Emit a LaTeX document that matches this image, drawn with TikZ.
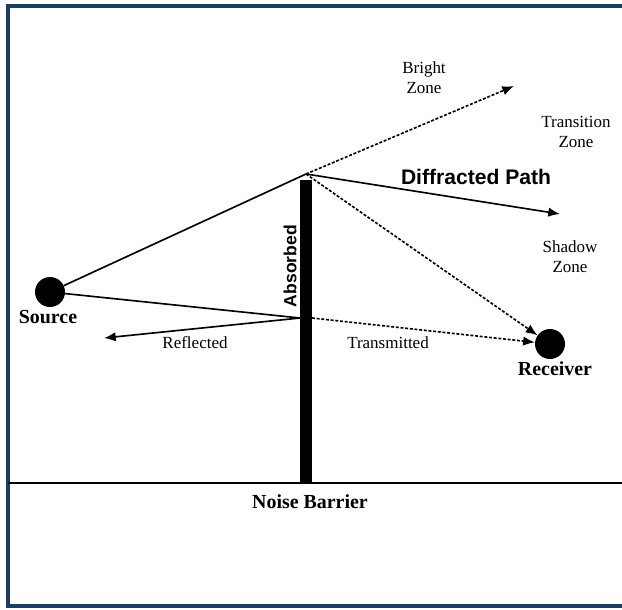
\documentclass[tikz,border=0pt]{standalone}
\usepackage{fontspec}
\setmainfont{Liberation Serif}
\setsansfont{Liberation Sans}
\usetikzlibrary{arrows.meta}
\definecolor{framecol}{RGB}{25,62,100}

\begin{document}
\begin{tikzpicture}[x=0.03cm,y=-0.03cm,
    ray/.style={line width=1.4pt},
    dray/.style={line width=1.4pt, dash pattern=on 2.5pt off 1.5pt},
    tip/.style={-{Latex[length=10pt,width=8pt]}},
    lbl/.style={font=\fontsize{14.5}{17}\selectfont, align=center},
    blbl/.style={font=\bfseries\fontsize{17}{20}\selectfont},
    dot/.style={circle, fill=black, inner sep=0pt, minimum size=0.9cm}]
\useasboundingbox (0,0) rectangle (622,609);

% frame and ground
\draw[framecol, line width=3pt] (622,6) -- (8,6) -- (8,606) -- (622,606);
\draw[line width=1.2pt] (8,483) -- (622,483);

% barrier
\node[fill=black, inner sep=0pt, minimum width=0.36cm, minimum height=9.09cm, anchor=north] (barrier) at (306,180) {};
\coordinate (top) at (306,174);
\coordinate (hit) at (300,318);
\coordinate (pass) at (312,318);

% source and receiver
\node[dot] (source) at (50,292) {};
\node[dot] (receiver) at (550,344) {};
\coordinate (bright) at (514,86);
\coordinate (diff) at (560,214);
\coordinate (refl) at (104,338);

% rays
\draw[ray] (source) -- (top);
\draw[dray,tip] (top) -- (bright);
\draw[ray,tip] (top) -- (diff);
\draw[dray,tip] (top) -- (receiver);
\draw[ray] (source) -- (hit);
\draw[ray,tip] (hit) -- (refl);
\draw[dray,tip] (pass) -- (receiver);

% labels
\node[blbl] (srclbl) at (48,317) {Source};
\node[blbl] (rcvlbl) at (555,369) {Receiver};
\node[blbl] (barlbl) at (310,502) {Noise Barrier};
\node[lbl] (refllbl) at (195,343) {Reflected};
\node[lbl] (translbl) at (388,343) {Transmitted};
\node[lbl] (brightlbl) at (424,78) {Bright\\Zone};
\node[lbl] (translbl) at (576,132) {Transition\\Zone};
\node[lbl] (shadowlbl) at (570,257) {Shadow\\Zone};
\node[font=\sffamily\bfseries\fontsize{18}{21}\selectfont] (difflbl) at (476,177) {Diffracted Path};
\node[rotate=90, font=\sffamily\bfseries\fontsize{15}{18}\selectfont] (abslbl) at (290,266) {Absorbed};
\end{tikzpicture}
\end{document}
